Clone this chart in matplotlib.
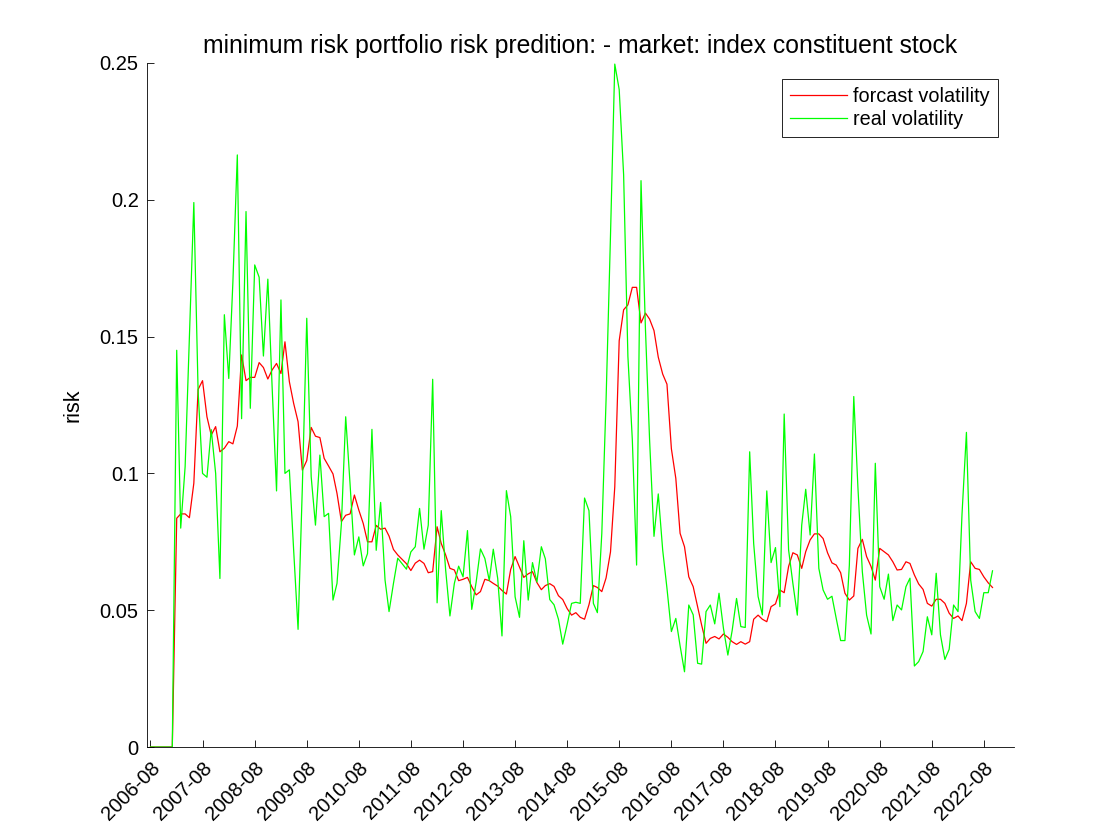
import matplotlib
matplotlib.use('Agg')
import matplotlib.pyplot as plt
import pandas as pd

# monthly data, first point 2006-08
start_month = '2006-08-01'

# real volatility (green)
real_vol = [
    0, 0, 0, 0, 0, 0, 0.145, 0.080, 0.1025, 0.150,
    0.199, 0.130, 0.100, 0.0986, 0.116, 0.100, 0.0616, 0.158, 0.1347, 0.170,
    0.2164, 0.120, 0.1957, 0.1238, 0.1762, 0.1717, 0.1429, 0.171, 0.1317, 0.0936,
    0.1634, 0.100, 0.1013, 0.072, 0.043, 0.095, 0.1567, 0.0988, 0.0811, 0.1067,
    0.0842, 0.0854, 0.0537, 0.0598, 0.0817, 0.1207, 0.0958, 0.0702, 0.0768, 0.0662,
    0.0707, 0.1161, 0.0719, 0.0894, 0.061, 0.0495, 0.0598, 0.069, 0.067, 0.065,
    0.0713, 0.0732, 0.0872, 0.0723, 0.0811, 0.1344, 0.0527, 0.0864, 0.0647, 0.0479,
    0.0598, 0.0661, 0.0622, 0.0791, 0.0503, 0.0603, 0.0724, 0.0689, 0.0608, 0.0723,
    0.0616, 0.0406, 0.0937, 0.0842, 0.0549, 0.0474, 0.0754, 0.0537, 0.0674, 0.0603,
    0.0732, 0.0688, 0.0539, 0.052, 0.0467, 0.0376, 0.0448, 0.0525, 0.0529, 0.0525,
    0.091, 0.0864, 0.0525, 0.0491, 0.078, 0.127, 0.187, 0.2496, 0.2403, 0.2092,
    0.1428, 0.1124, 0.0665, 0.207, 0.1529, 0.1124, 0.077, 0.0925, 0.072, 0.058,
    0.0422, 0.047, 0.037, 0.0275, 0.0519, 0.0483, 0.0306, 0.0303, 0.0495, 0.0519,
    0.045, 0.0562, 0.0434, 0.0336, 0.0425, 0.0543, 0.044, 0.0437, 0.1079, 0.0744,
    0.055, 0.0483, 0.0936, 0.0674, 0.0729, 0.0513, 0.1217, 0.072, 0.0598, 0.0482,
    0.0811, 0.0942, 0.0775, 0.1071, 0.0653, 0.0574, 0.054, 0.0551, 0.047, 0.0389,
    0.0389, 0.0665, 0.1281, 0.095, 0.0641, 0.0482, 0.0413, 0.1037, 0.0586, 0.054,
    0.0632, 0.0462, 0.0519, 0.0501, 0.0586, 0.0617, 0.0296, 0.0312, 0.0349, 0.0476,
    0.041, 0.0635, 0.041, 0.032, 0.0357, 0.0519, 0.0495, 0.085, 0.115, 0.061,
    0.0495, 0.047, 0.0564, 0.0564, 0.0644,
]

# forcast volatility (red)
forecast_vol = [
    0, 0, 0, 0, 0, 0, 0.0836, 0.0852, 0.0852, 0.0838,
    0.0964, 0.1307, 0.1339, 0.1207, 0.114, 0.1171, 0.1079, 0.1092, 0.1116, 0.1108,
    0.1173, 0.1433, 0.1339, 0.1351, 0.1351, 0.1405, 0.1387, 0.1345, 0.1378, 0.1402,
    0.1365, 0.1481, 0.1335, 0.1256, 0.1189, 0.1012, 0.1047, 0.1168, 0.1136, 0.1131,
    0.1055, 0.1027, 0.0998, 0.0927, 0.0824, 0.0847, 0.0852, 0.0921, 0.0866, 0.0817,
    0.075, 0.075, 0.081, 0.0796, 0.08, 0.0771, 0.0722, 0.0702, 0.0686, 0.067,
    0.0645, 0.0672, 0.0683, 0.0671, 0.0637, 0.0641, 0.0805, 0.0744, 0.0702, 0.0653,
    0.0647, 0.0608, 0.0613, 0.062, 0.0586, 0.0556, 0.0568, 0.0613, 0.0608, 0.0598,
    0.0588, 0.0572, 0.0559, 0.0649, 0.0696, 0.0657, 0.062, 0.0633, 0.0641, 0.0601,
    0.0575, 0.059, 0.0597, 0.0587, 0.0553, 0.0539, 0.0506, 0.0482, 0.0491, 0.0474,
    0.0467, 0.052, 0.059, 0.0583, 0.0568, 0.0618, 0.0713, 0.0951, 0.1485, 0.1598,
    0.1616, 0.168, 0.168, 0.155, 0.1586, 0.1564, 0.1522, 0.1425, 0.1363, 0.1326,
    0.109, 0.0982, 0.0781, 0.0732, 0.0622, 0.0586, 0.0513, 0.0446, 0.0379, 0.0397,
    0.0404, 0.0395, 0.0413, 0.0401, 0.0385, 0.0375, 0.0385, 0.0376, 0.0385, 0.0467,
    0.0482, 0.0467, 0.0458, 0.0513, 0.0523, 0.0574, 0.0564, 0.066, 0.071, 0.0702,
    0.0653, 0.0714, 0.0757, 0.0779, 0.0779, 0.0762, 0.071, 0.0673, 0.0665, 0.0637,
    0.0562, 0.0537, 0.0552, 0.0726, 0.0759, 0.0696, 0.066, 0.061, 0.0726, 0.0714,
    0.0702, 0.0677, 0.0647, 0.0649, 0.0677, 0.0671, 0.0629, 0.0596, 0.0576, 0.0525,
    0.0515, 0.054, 0.054, 0.0525, 0.0489, 0.047, 0.0479, 0.0462, 0.0525, 0.0677,
    0.0653, 0.0649, 0.0622, 0.06, 0.0583,
]

# tick labels every year in August
tick_labels = ['%d-08' % y for y in range(2006, 2023)]
y_ticks = [0, 0.05, 0.1, 0.15, 0.2, 0.25]
y_tick_labels = ['0', '0.05', '0.1', '0.15', '0.2', '0.25']

dates = pd.date_range(start_month, periods=len(real_vol), freq='MS')
tick_dates = pd.to_datetime([t + '-01' for t in tick_labels])

plt.rcParams['font.family'] = ['Liberation Sans', 'DejaVu Sans']

fig = plt.figure(figsize=(11.2, 8.4), dpi=100)
ax = fig.add_axes([0.1313, 0.1107, 0.7741, 0.8143])

ax.plot(dates, forecast_vol, color=(1, 0, 0), lw=0.9, label='forcast volatility')
ax.plot(dates, real_vol, color=(0, 1, 0), lw=0.9, label='real volatility')

# axis limits and ticks
ax.set_xlim(pd.Timestamp('2006-07-08'), pd.Timestamp('2023-03-01'))
ax.set_ylim(0, 0.25)
ax.set_xticks(tick_dates)
ax.set_xticklabels(tick_labels, rotation=45, ha='right', rotation_mode='anchor')
ax.set_yticks(y_ticks)
ax.set_yticklabels(y_tick_labels)
ax.tick_params(direction='in', length=5, width=0.6, labelsize=14.5, pad=6)
ax.tick_params(axis='x', pad=8)

# MATLAB style: no box on top/right
ax.spines['top'].set_visible(False)
ax.spines['right'].set_visible(False)
for s in ['left', 'bottom']:
    ax.spines[s].set_linewidth(0.6)

ax.set_ylabel('risk', fontsize=15.5, labelpad=12)
ax.set_title('minimum risk portfolio risk predition: - market: index constituent stock',
             fontsize=17.8, pad=7)

leg = ax.legend(loc='upper right', bbox_to_anchor=(0.9815, 0.9766), borderaxespad=0,
                fancybox=False, framealpha=1, edgecolor='black', fontsize=14.3,
                handlelength=2.9, handletextpad=0.3, labelspacing=0.2, borderpad=0.4)
leg.get_frame().set_linewidth(0.6)

fig.savefig('out.png', dpi=100)
